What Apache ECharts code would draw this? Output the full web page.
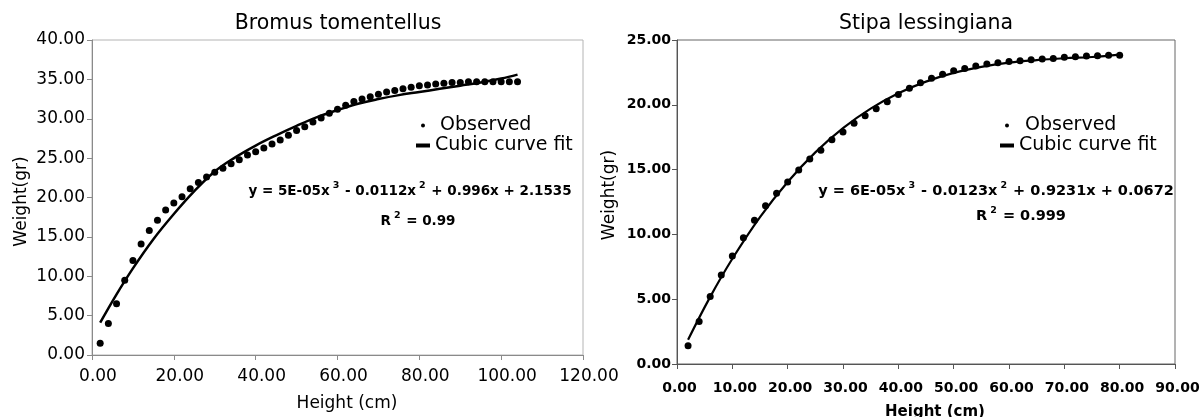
<!DOCTYPE html>
<html>
<head>
<meta charset="utf-8">
<script src="https://cdn.jsdelivr.net/npm/echarts@6/dist/echarts.min.js"></script>
<style>
  html, body { margin: 0; padding: 0; background: #fff; }
  #chart { width: 1204px; height: 417px; }
</style>
</head>
<body>
<div id="chart"></div>
<script>
// Bromus tomentellus
var bromusHeight = [2, 4, 6, 8, 10, 12, 14, 16, 18, 20, 22, 24, 26, 28, 30, 32, 34, 36, 38, 40,
  42, 44, 46, 48, 50, 52, 54, 56, 58, 60, 62, 64, 66, 68, 70, 72, 74, 76, 78, 80,
  82, 84, 86, 88, 90, 92, 94, 96, 98, 100, 102, 104]
var bromusWeight = [1.5, 4.0, 6.5, 9.5, 12.0, 14.1, 15.8, 17.1, 18.4, 19.3, 20.1, 21.1, 21.9, 22.6, 23.2, 23.7, 24.3, 24.8, 25.4, 25.8,
  26.3, 26.8, 27.3, 27.9, 28.5, 29.0, 29.6, 30.1, 30.7, 31.2, 31.7, 32.2, 32.5, 32.8, 33.1, 33.4, 33.6, 33.8, 34.0, 34.2,
  34.3, 34.4, 34.5, 34.6, 34.6, 34.7, 34.7, 34.7, 34.7, 34.7, 34.7, 34.7]
var bromusFitX = [2, 6, 10, 15, 20, 25, 30, 35, 40, 45, 50, 55, 60, 65, 70, 75, 80, 85, 90, 95, 100, 104]
var bromusFitY = [4.1, 7.7, 11.0, 14.7, 17.9, 20.8, 23.3, 25.1, 26.6, 27.9, 29.1, 30.2, 31.1, 31.9, 32.5, 33.0, 33.4, 33.8, 34.2, 34.6, 35.1, 35.6]

// Stipa lessingiana
var stipaHeight = [2, 4, 6, 8, 10, 12, 14, 16, 18, 20, 22, 24, 26, 28, 30, 32, 34, 36, 38, 40,
  42, 44, 46, 48, 50, 52, 54, 56, 58, 60, 62, 64, 66, 68, 70, 72, 74, 76, 78, 80]
var stipaWeight = [1.4, 3.27, 5.2, 6.87, 8.33, 9.75, 11.1, 12.22, 13.17, 14.05, 14.97, 15.82, 16.5, 17.3, 17.9, 18.57, 19.15, 19.7, 20.24, 20.8,
  21.27, 21.7, 22.04, 22.35, 22.63, 22.8, 23.0, 23.15, 23.25, 23.35, 23.4, 23.48, 23.53, 23.58, 23.66, 23.71, 23.77, 23.79, 23.82, 23.82]
var stipaFitX = [2, 6, 10, 15, 20, 25, 30, 35, 40, 45, 50, 55, 60, 65, 70, 75, 80]
var stipaFitY = [1.87, 5.18, 8.12, 11.34, 14.05, 16.33, 18.2, 19.7, 20.89, 21.79, 22.46, 22.93, 23.25, 23.45, 23.59, 23.69, 23.87]

var titles = ['Bromus tomentellus', 'Stipa lessingiana']
var legendNames = ['Observed', 'Cubic curve fit']

var FONT = 'DejaVu Sans'

function pairs(xs, ys) {
  return xs.map(function (x, i) { return [x, ys[i]] })
}
function fmt(v) { return v.toFixed(2) }

var chart = echarts.init(document.getElementById('chart'))

function eqRich(size) {
  return {
    n: { fontFamily: FONT, fontSize: size, fontWeight: 'bold', fill: '#000', lineHeight: 20 },
    s: { fontFamily: FONT, fontSize: 9.5, fontWeight: 'bold', fill: '#000', verticalAlign: 'top', padding: [0, 1, 0, 3] }
  }
}

chart.setOption({
  animation: false,
  backgroundColor: '#fff',
  textStyle: { fontFamily: FONT, color: '#000' },
  grid: [
    { left: 92, top: 40, width: 491, height: 315, show: true, borderColor: '#b4b4b4', borderWidth: 1, outerBoundsMode: 'none', containLabel: false },
    { left: 677, top: 40, width: 498, height: 324, show: true, borderColor: '#666', borderWidth: 1, outerBoundsMode: 'none', containLabel: false }
  ],
  legend: [
    {
      left: 416, top: 116, orient: 'vertical', padding: 0, itemGap: 1,
      itemWidth: 14, itemHeight: 4, selectedMode: false,
      textStyle: { fontSize: 19, fontFamily: FONT, color: '#000' },
      data: [
        { name: legendNames[0], icon: 'circle', textStyle: { padding: [0, 0, 0, 5] } },
        { name: legendNames[1], icon: 'rect' }
      ]
    },
    {
      left: 1000, top: 116, orient: 'vertical', padding: 0, itemGap: 1,
      itemWidth: 14, itemHeight: 4, selectedMode: false,
      textStyle: { fontSize: 19, fontFamily: FONT, color: '#000' },
      data: [
        { name: legendNames[0], icon: 'circle', textStyle: { padding: [0, 0, 0, 6] } },
        { name: legendNames[1], icon: 'rect' }
      ]
    }
  ],
  xAxis: [
    {
      type: 'value', gridIndex: 0, min: 0, max: 120, interval: 20,
      axisLine: { show: true, onZero: false, lineStyle: { color: '#8a8a8a' } },
      axisTick: { show: true, length: 5, lineStyle: { color: '#8a8a8a' } },
      splitLine: { show: false },
      axisLabel: { fontSize: 17, color: '#000', margin: 13, formatter: fmt, padding: [0, 0, 0, 12] },
      name: 'Height (cm)', nameLocation: 'middle', nameGap: 40,
      nameTextStyle: { fontSize: 17, color: '#000', padding: [0, 0, 0, 19] }
    },
    {
      type: 'value', gridIndex: 1, min: 0, max: 90, interval: 10,
      axisLine: { show: true, onZero: false, lineStyle: { color: '#555' } },
      axisTick: { show: true, length: 5, lineStyle: { color: '#555' } },
      splitLine: { show: false },
      axisLabel: { fontSize: 14, fontWeight: 'bold', color: '#000', margin: 17, formatter: fmt, padding: [0, 0, 0, 5] },
      name: 'Height (cm)', nameLocation: 'middle', nameGap: 41,
      nameTextStyle: { fontSize: 15, fontWeight: 'bold', color: '#000', padding: [0, 0, 0, 18] }
    }
  ],
  yAxis: [
    {
      type: 'value', gridIndex: 0, min: 0, max: 40, interval: 5,
      axisLine: { show: true, onZero: false, lineStyle: { color: '#8a8a8a' } },
      axisTick: { show: true, length: 5, lineStyle: { color: '#8a8a8a' } },
      splitLine: { show: false },
      axisLabel: { fontSize: 17, color: '#000', margin: 7, formatter: fmt },
      name: 'Weight(gr)', nameLocation: 'middle', nameGap: 62,
      nameTextStyle: { fontSize: 17, color: '#000', padding: [0, 8, 0, 0] }
    },
    {
      type: 'value', gridIndex: 1, min: 0, max: 25, interval: 5,
      axisLine: { show: true, onZero: false, lineStyle: { color: '#555' } },
      axisTick: { show: true, length: 5, lineStyle: { color: '#555' } },
      splitLine: { show: false },
      axisLabel: { fontSize: 14, fontWeight: 'bold', color: '#000', margin: 6, formatter: fmt },
      name: 'Weight(gr)', nameLocation: 'middle', nameGap: 59,
      nameTextStyle: { fontSize: 17, color: '#000', padding: [0, 0, 0, 14] }
    }
  ],
  graphic: [
    { type: 'text', x: 338, y: 24, style: { text: titles[0], fontFamily: FONT, fontSize: 20.5, fill: '#000', align: 'center', verticalAlign: 'middle' } },
    { type: 'text', x: 926, y: 24, style: { text: titles[1], fontFamily: FONT, fontSize: 20.5, fill: '#000', align: 'center', verticalAlign: 'middle' } },
    { type: 'text', x: 410, y: 191, style: { text: '{n|y = 5E-05x}{s|3}{n| - 0.0112x}{s|2}{n| + 0.996x + 2.1535}', rich: eqRich(13.5), align: 'center', verticalAlign: 'middle' } },
    { type: 'text', x: 418, y: 221, style: { text: '{n|R}{s|2}{n| = 0.99}', rich: eqRich(13.5), align: 'center', verticalAlign: 'middle' } },
    { type: 'text', x: 996, y: 191, style: { text: '{n|y = 6E-05x}{s|3}{n| - 0.0123x}{s|2}{n| + 0.9231x + 0.0672}', rich: eqRich(14.5), align: 'center', verticalAlign: 'middle' } },
    { type: 'text', x: 1021, y: 216, style: { text: '{n|R}{s|2}{n| = 0.999}', rich: eqRich(14.5), align: 'center', verticalAlign: 'middle' } }
  ],
  series: [
    {
      name: legendNames[0], type: 'scatter', xAxisIndex: 0, yAxisIndex: 0,
      symbolSize: 7, itemStyle: { color: '#000', opacity: 1 },
      data: pairs(bromusHeight, bromusWeight)
    },
    {
      name: legendNames[1], type: 'line', xAxisIndex: 0, yAxisIndex: 0,
      smooth: 0.4, showSymbol: false, symbol: 'none', z: 3,
      itemStyle: { color: '#000' }, lineStyle: { color: '#000', width: 2.5 },
      data: pairs(bromusFitX, bromusFitY)
    },
    {
      name: legendNames[0], type: 'scatter', xAxisIndex: 1, yAxisIndex: 1,
      symbolSize: 7, itemStyle: { color: '#000', opacity: 1 },
      data: pairs(stipaHeight, stipaWeight)
    },
    {
      name: legendNames[1], type: 'line', xAxisIndex: 1, yAxisIndex: 1,
      smooth: 0.4, showSymbol: false, symbol: 'none', z: 3,
      itemStyle: { color: '#000' }, lineStyle: { color: '#000', width: 2.2 },
      data: pairs(stipaFitX, stipaFitY)
    }
  ]
})
</script>
</body>
</html>
